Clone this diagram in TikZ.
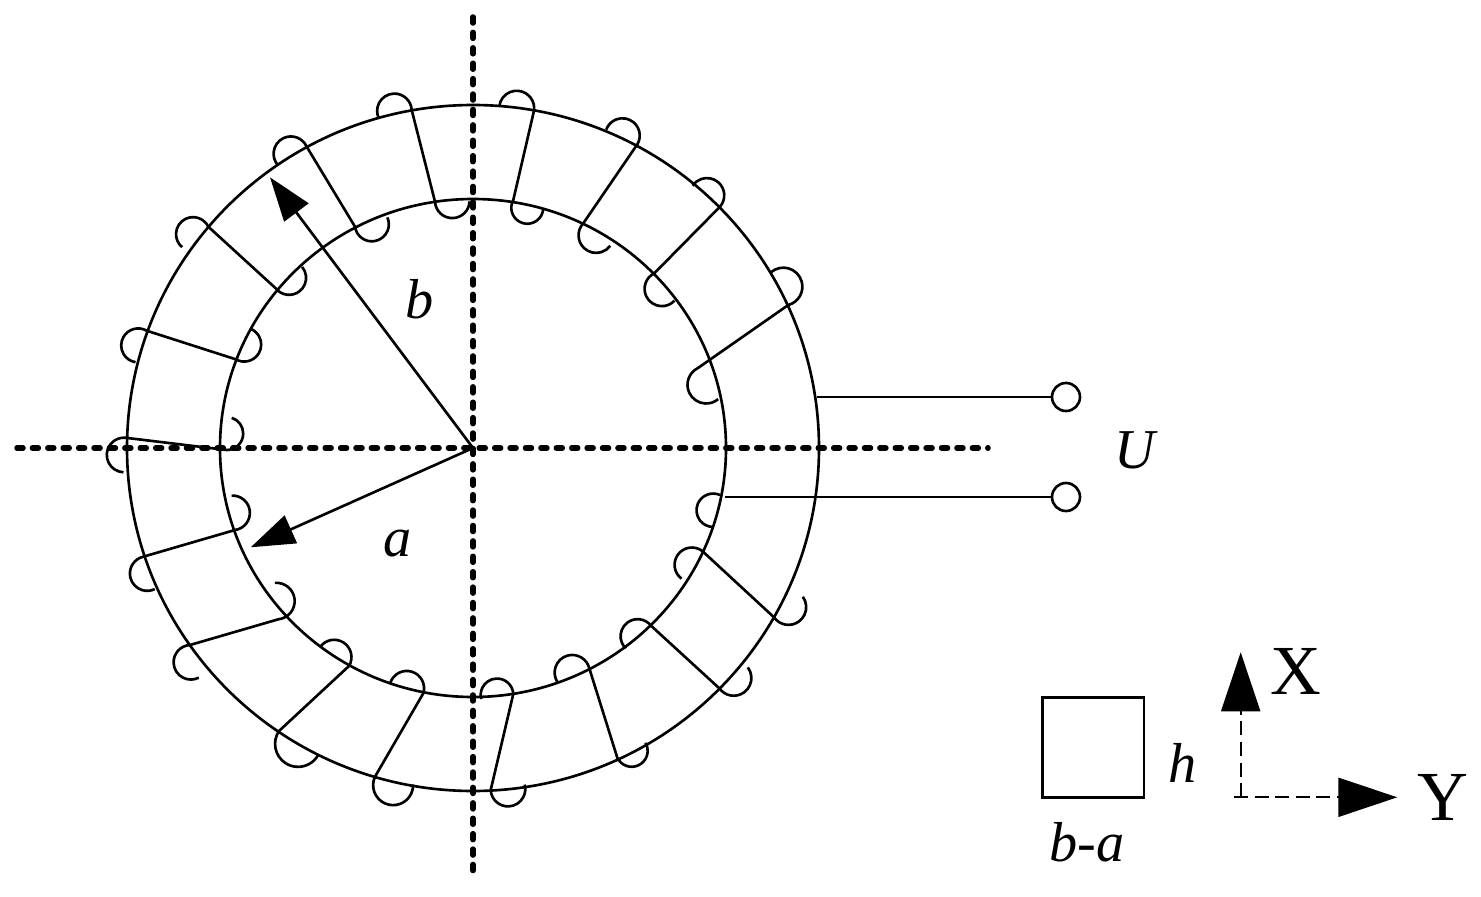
\documentclass[tikz,border=0pt]{standalone}
\usepackage{fontspec}
\setmainfont{Liberation Serif}
\usetikzlibrary{arrows.meta}

\begin{document}
\begin{tikzpicture}[
	x=0.01cm,
	y=0.01cm,
	coil/.style={line width=0.75pt},
	axisline/.style={line width=0.55mm,dash pattern=on 0.6mm off 0.94mm,line cap=round},
	radiusarrow/.style={line width=0.75pt,-{Triangle[length=4.4mm,width=3mm]}},
	xyarrow/.style={line width=0.6pt,dash pattern=on 1.4mm off 0.66mm,-{Triangle[length=5.9mm,width=3.9mm,sep=0pt]}},
	terminal/.style={
		circle,
		draw=black,
		line width=0.75pt,
		inner sep=0pt,
		minimum size=2.8mm},
	symbol/.style={font=\fontsize{16}{16}\selectfont\itshape,inner sep=0pt},
	axisname/.style={font=\fontsize{20}{20}\selectfont,inner sep=0pt}
	]
	\useasboundingbox (0,0) rectangle (1481,-897);
	
	\coordinate (cen) at (473,-448);
	
	% the two dashed axes
	\coordinate (axL) at (17,-448);
	\coordinate (axR) at (988,-448);
	\coordinate (axT) at (473,-17);
	\coordinate (axB) at (473,-876);
	\draw [axisline] (axL) -- (axR);
	\draw [axisline] (axT) -- (axB);
	
	% core
	\draw [coil] (cen) ellipse [x radius=346,y radius=343];
	\draw [coil] (cen) ellipse [x radius=253,y radius=249];
	
	\foreach \ox/\oy/\oa/\ob/\ra/\ix/\iy/\ia/\ib/\rb in {% outer end/hook angles,radius/inner end/hook angles,radius
		534/-110.7/-8/174/17.5/513.3/-200/151/360/16,
		635.7/-146.7/-40/160/17.3/583.3/-223.3/137/323/17.6,
		720/-206.7/-41/146/17.3/654.3/-273.3/116/317/17.3,
		788.3/-305/-75/130/19/698/-368/116/310/18.7,
		774/-617.3/215/396/17.7/702.3/-551/53/233/17.3,
		719.3/-688.3/215.5/397/17.7/651/-625.7/38/226/17,
		617.3/-757.7/205.6/390/16/589.3/-668.3/14/214/17.6,
		490.7/-790/183/375/17.3/513.3/-694/3/195/16.3,
		375/-776.7/155/362/20/423.3/-693.3/-17/163/17.3,
		279/-731/146/333/23/349/-666/-31/141/17.3,
		190/-645/93/297/17.3/278.3/-619.3/-84/95/18.3,
		143.3/-556.7/103/296/17.3/235/-530/-82/93/17.3,
		125/-437.7/87/268/17.3/226.7/-450/-90/72/16.5,
		146.7/-330.7/60/261/17/235.7/-359.3/240/428/17,
		208.3/-226.7/26/230/17/275.7/-288.3/218/400/17,
		306.7/-146.7/24/218/17.3/355/-226.7/188/384/17,
		411.7/-110/3/205/17.3/435/-201.7/183/358/17.3}
	\draw [coil] (\ox,\oy) arc [start angle=\oa,end angle=\ob,radius=\ra]
		(\ox,\oy) -- (\ix,\iy) arc [start angle=\ia,end angle=\ib,radius=\rb];
	
	% leads
	\node[terminal] (termA) at (1066,-397) {};
	\node[terminal] (termB) at (1066,-497) {};
	\coordinate (leadA) at (817,-397);
	\coordinate (leadB) at (725,-497);
	\draw [coil] (leadA) -- (termA);
	\draw [coil] (leadB) -- (termB);
	\draw [coil] (720,-495) arc [start angle=66,end angle=267,radius=16.7];
	
	% radii
	\coordinate (tipB) at (270,-177.3);
	\coordinate (tipA) at (250.7,-547.3);
	\draw [radiusarrow] (cen) -- (tipB);
	\draw [radiusarrow] (cen) -- (tipA);
	
	\node[symbol] (lblB) at (420,-299) {b};
	\node[symbol] (lblA) at (398,-544) {a};
	\node[symbol] (lblU) at (1135,-450) {U};
	
	% cross section
	\node[draw=black,line width=0.8pt,minimum width=1.017cm,minimum height=1cm,inner sep=0pt] (sect) at (1093.2,-747.3) {};
	\node[symbol] (lblH) at (1183,-763) {h};
	\node[symbol] (lblBA) at (1087,-842) {b-a};
	
	% directions
	\coordinate (orig) at (1240.7,-797.3);
	\coordinate (origL) at (1234,-797.3);
	\coordinate (dirX) at (1240.7,-652.3);
	\coordinate (dirY) at (1397.3,-797.3);
	\draw [xyarrow] (orig) -- (dirX);
	\draw [xyarrow] (origL) -- (dirY);
	\node[axisname] (lblX) at (1296,-671) {X};
	\node[axisname] (lblY) at (1443,-797) {Y};
	
\end{tikzpicture}
\end{document}
